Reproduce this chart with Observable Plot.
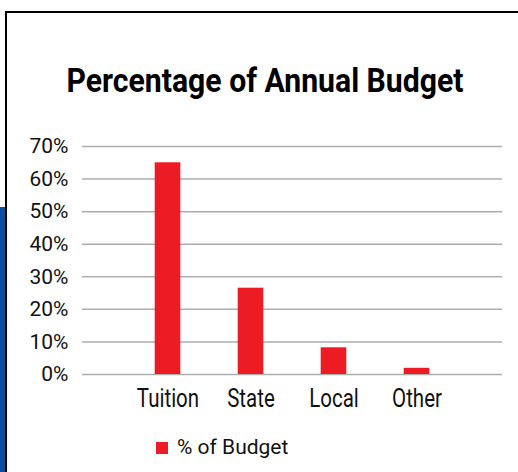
<!DOCTYPE html>
<html>
<head>
<meta charset="utf-8">
<script src="https://cdn.jsdelivr.net/npm/d3@7"></script>
<script src="https://cdn.jsdelivr.net/npm/@observablehq/plot@0.6"></script>
<style>
  html, body { margin: 0; padding: 0; background: #fff; }
  #wrap { position: relative; width: 518px; height: 472px; overflow: hidden; font-family: Roboto, "Noto Sans", sans-serif; }
  #strip { position: absolute; left: 0; top: 207px; width: 5px; height: 265px; background: #0b4f9d; }
  #frame { position: absolute; left: 5px; top: 11px; width: 530px; height: 480px; border-top: 2px solid #000; border-left: 2px solid #000; }
  #title { position: absolute; left: 264.5px; top: 64px; line-height: 33px; font-family: Roboto, sans-serif; font-weight: 700; font-size: 33px; color: #000; white-space: nowrap; transform-origin: 0 0; }
  #chart { position: absolute; left: 0; top: 0; }
  #sw { position: absolute; left: 156px; top: 442px; width: 12px; height: 12px; background: #ed1c24; }
  #legtext { position: absolute; left: 177px; top: 437px; line-height: 21px; font-size: 21px; color: #111; white-space: nowrap; }
</style>
</head>
<body>
<div id="wrap">
  <div id="strip"></div>
  <div id="frame"></div>
  <div id="chart"></div>
  <div id="title">Percentage of Annual Budget</div>
  <div id="sw"></div>
  <div id="legtext">% of Budget</div>
</div>
<script>
const categories = ["Tuition", "State", "Local", "Other"];
const values = [0.65, 0.265, 0.082, 0.019];
const yTicks = [0, 0.1, 0.2, 0.3, 0.4, 0.5, 0.6, 0.7];

const data = categories.map((c, i) => ({category: c, value: values[i]}));

const chart = Plot.plot({
  width: 518,
  height: 472,
  marginLeft: 82,
  marginRight: 16,
  marginTop: 146,
  marginBottom: 98,
  style: {fontFamily: "Roboto, 'Noto Sans', sans-serif", background: "transparent", color: "#111"},
  x: {domain: categories, range: [125.5, 459], padding: 0, label: null},
  y: {domain: [0, 0.7], label: null},
  marks: [
    Plot.ruleY(yTicks, {stroke: "#adadad", strokeWidth: 1.5}),
    Plot.barY(data, {x: "category", y: "value", fill: "#ed1c24", insetLeft: 28.7, insetRight: 28.7}),
    Plot.axisY({ticks: yTicks, tickFormat: d3.format(".0%"), tickSize: 0, tickPadding: 14, fontSize: 21, label: null}),
    Plot.axisX({tickSize: 0, tickPadding: 15, fontSize: 25, label: null})
  ]
});
document.getElementById("chart").appendChild(chart);

// narrow the x tick labels horizontally to mimic the condensed original face
chart.querySelectorAll('g[aria-label="x-axis tick label"] text').forEach(t => {
  const tr = t.getAttribute("transform") || "";
  t.setAttribute("transform", tr + " scale(0.82,1)");
});

// fit title to original width
const title = document.getElementById("title");
const w = title.getBoundingClientRect().width;
const sx = 397 / w;
title.style.transform = `translateX(${-397 / 2}px) scale(${sx},1)`;
</script>
</body>
</html>
